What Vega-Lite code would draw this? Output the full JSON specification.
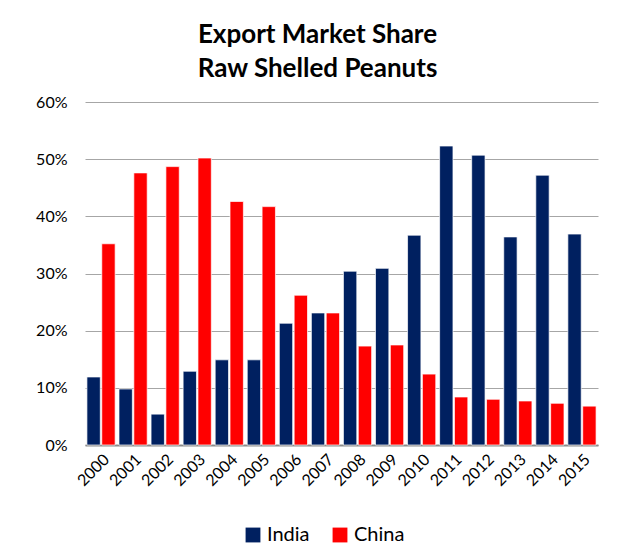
{
  "$schema": "https://vega.github.io/schema/vega-lite/v6.json",
  "width": 513,
  "height": 343,
  "autosize": "none",
  "padding": {"left": 85, "top": 102, "right": 19, "bottom": 112},
  "background": "white",
  "title": {
    "text": ["Export Market Share", "Raw Shelled Peanuts"],
    "font": "Lato",
    "fontSize": 26,
    "fontWeight": "bold",
    "color": "#000000",
    "lineHeight": 34,
    "anchor": "middle",
    "dx": -24,
    "offset": 12
  },
  "data": {
    "values": [
      {"year": "2000", "country": "India", "share": 0.119},
      {"year": "2001", "country": "India", "share": 0.098},
      {"year": "2002", "country": "India", "share": 0.054},
      {"year": "2003", "country": "India", "share": 0.129},
      {"year": "2004", "country": "India", "share": 0.149},
      {"year": "2005", "country": "India", "share": 0.149},
      {"year": "2006", "country": "India", "share": 0.213},
      {"year": "2007", "country": "India", "share": 0.231},
      {"year": "2008", "country": "India", "share": 0.304},
      {"year": "2009", "country": "India", "share": 0.309},
      {"year": "2010", "country": "India", "share": 0.367},
      {"year": "2011", "country": "India", "share": 0.523},
      {"year": "2012", "country": "India", "share": 0.507},
      {"year": "2013", "country": "India", "share": 0.364},
      {"year": "2014", "country": "India", "share": 0.472},
      {"year": "2015", "country": "India", "share": 0.369},
      {"year": "2000", "country": "China", "share": 0.352},
      {"year": "2001", "country": "China", "share": 0.476},
      {"year": "2002", "country": "China", "share": 0.487},
      {"year": "2003", "country": "China", "share": 0.502},
      {"year": "2004", "country": "China", "share": 0.426},
      {"year": "2005", "country": "China", "share": 0.417},
      {"year": "2006", "country": "China", "share": 0.262},
      {"year": "2007", "country": "China", "share": 0.231},
      {"year": "2008", "country": "China", "share": 0.173},
      {"year": "2009", "country": "China", "share": 0.175},
      {"year": "2010", "country": "China", "share": 0.124},
      {"year": "2011", "country": "China", "share": 0.084},
      {"year": "2012", "country": "China", "share": 0.080},
      {"year": "2013", "country": "China", "share": 0.077},
      {"year": "2014", "country": "China", "share": 0.073},
      {"year": "2015", "country": "China", "share": 0.068}
    ]
  },
  "mark": {"type": "bar", "stroke": "white", "strokeWidth": 0.7},
  "encoding": {
    "x": {
      "field": "year",
      "type": "nominal",
      "title": null,
      "scale": {"paddingInner": 0.12, "paddingOuter": 0.06},
      "axis": {
        "labelAngle": -45,
        "labelFont": "Lato",
        "labelFontSize": 16,
        "labelColor": "#000000",
        "ticks": false,
        "domainColor": "#8c8c8c",
        "domainWidth": 2,
        "labelPadding": 6
      }
    },
    "xOffset": {
      "field": "country",
      "type": "nominal",
      "sort": ["India", "China"],
      "scale": {"paddingInner": 0.1}
    },
    "y": {
      "field": "share",
      "type": "quantitative",
      "title": null,
      "scale": {"domain": [0, 0.6]},
      "axis": {
        "format": ".0%",
        "values": [0, 0.1, 0.2, 0.3, 0.4, 0.5, 0.6],
        "labelOverlap": false,
        "labelFont": "Lato",
        "labelFontSize": 16,
        "labelColor": "#000000",
        "ticks": false,
        "domain": false,
        "gridColor": "#a6a6a6",
        "gridWidth": 1,
        "labelPadding": 18
      }
    },
    "color": {
      "field": "country",
      "type": "nominal",
      "sort": ["India", "China"],
      "scale": {"domain": ["India", "China"], "range": ["#002060", "#ff0000"]},
      "legend": {
        "title": null,
        "orient": "none",
        "direction": "horizontal",
        "legendX": 158,
        "legendY": 423,
        "symbolType": "square",
        "symbolSize": 220,
        "symbolStrokeWidth": 0,
        "labelFont": "Lato",
        "labelFontSize": 20,
        "labelColor": "#000000",
        "columnPadding": 20,
        "labelOffset": 4
      }
    }
  },
  "config": {"view": {"stroke": null}}
}
